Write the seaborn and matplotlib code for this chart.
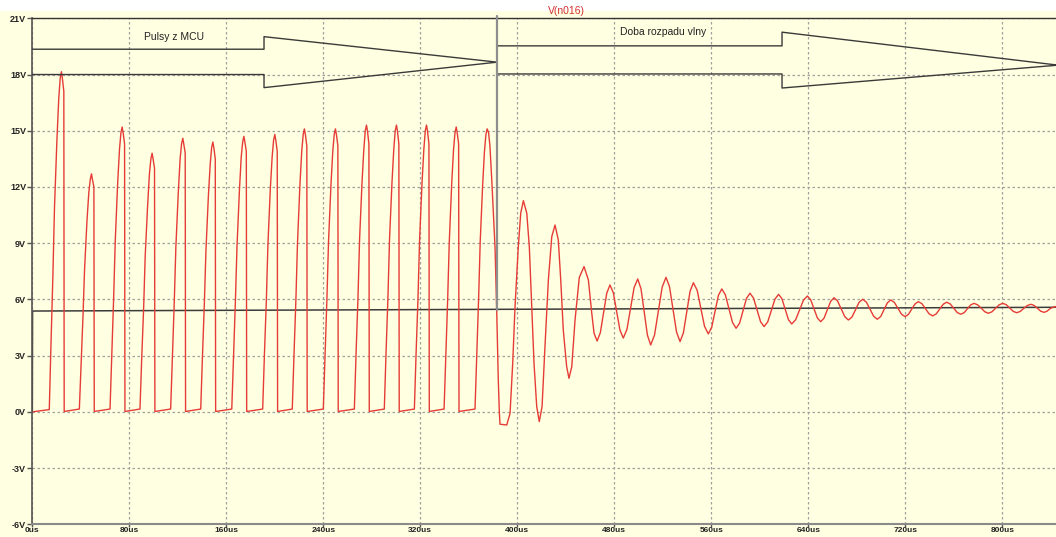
import matplotlib
matplotlib.use("Agg")
import matplotlib.pyplot as plt
from matplotlib.patches import Rectangle
import seaborn as sns

# V(n016): 15 pulses from the MCU, then the ringing decay (time in us, voltage in V)
t_us = [0.0,
        14.0, 15.4, 17.0, 18.3, 20.3, 21.8, 23.0, 24.0, 24.8, 26.0, 26.3,
        38.8, 40.2, 41.8, 43.1, 45.1, 46.6, 47.8, 48.8, 49.6, 50.8, 51.1,
        64.1, 65.5, 67.1, 68.4, 70.4, 71.9, 73.1, 74.1, 74.9, 76.1, 76.4,
        88.8, 90.2, 91.8, 93.1, 95.1, 96.6, 97.8, 98.8, 99.6, 100.8, 101.1,
        114.1, 115.5, 117.1, 118.4, 120.4, 121.9, 123.1, 124.1, 124.9, 126.1, 126.4,
        138.9, 140.3, 141.9, 143.2, 145.2, 146.7, 147.9, 148.9, 149.7, 150.9, 151.2,
        164.5, 165.9, 167.5, 168.8, 170.8, 172.3, 173.5, 174.5, 175.3, 176.5, 176.8,
        190.0, 191.4, 193.0, 194.3, 196.3, 197.8, 199.0, 200.0, 200.8, 202.0, 202.3,
        214.4, 215.8, 217.4, 218.7, 220.7, 222.2, 223.4, 224.4, 225.2, 226.4, 226.7,
        240.0, 241.4, 243.0, 244.3, 246.3, 247.8, 249.0, 250.0, 250.8, 252.0, 252.3,
        265.6, 267.0, 268.6, 269.9, 271.9, 273.4, 274.6, 275.6, 276.4, 277.6, 277.9,
        290.3, 291.7, 293.3, 294.6, 296.6, 298.1, 299.3, 300.3, 301.1, 302.3, 302.6,
        315.1, 316.5, 318.1, 319.4, 321.4, 322.9, 324.1, 325.1, 325.9, 327.1, 327.4,
        339.6, 341.0, 342.6, 343.9, 345.9, 347.4, 348.6, 349.6, 350.4, 351.6, 351.9,
        365.1, 366.5, 368.1, 369.4, 371.4, 372.9, 374.1, 375.1, 376.3, 377.4, 378.9,
        381.6, 383.0, 384.3, 385.2, 385.7, 391.3,
        394.0, 396.2, 398.1, 400.8, 402.8, 405.0, 407.8, 409.9, 411.9, 413.8, 416.0,
        418.1, 420.4, 422.8, 425.6, 428.4, 431.1, 433.8, 435.8, 437.9, 440.7,
        442.6, 444.9, 447.6, 451.1, 455.0, 458.6, 461.4, 463.3, 465.8,
        468.45, 471.1, 473.75, 476.4, 479.15, 481.9, 484.65, 487.4,
        490.4, 493.35, 496.3, 499.3, 502.0, 504.65, 507.3, 510.0,
        513.15, 516.3, 519.45, 522.6, 525.5, 528.4, 531.3, 534.2,
        536.95, 539.7, 542.45, 545.2, 548.3, 551.35, 554.4, 557.5,
        560.3, 563.05, 565.8, 568.6, 571.55, 574.5, 577.45, 580.4,
        583.3, 586.15, 589.0, 591.9, 594.8, 597.7, 600.6, 603.5,
        606.5, 609.5, 612.5, 615.5, 618.2, 620.9, 623.6, 626.3,
        629.5, 632.75, 636.0, 639.2, 641.95, 644.7, 647.45, 650.2,
        652.95, 655.7, 658.45, 661.2, 664.15, 667.1, 670.05, 673.0,
        676.0, 678.95, 681.9, 684.9, 687.9, 690.9, 693.9, 696.9,
        699.7, 702.45, 705.2, 708.0, 710.95, 713.9, 716.85, 719.8,
        722.5, 725.25, 728.0, 730.7, 733.7, 736.65, 739.6, 742.6,
        745.5, 748.35, 751.2, 754.1, 757.0, 759.9, 762.8, 765.7,
        768.45, 771.2, 773.95, 776.7, 779.65, 782.6, 785.55, 788.5,
        791.45, 794.4, 797.35, 800.3, 803.2, 806.1, 809.0, 811.9,
        814.8, 817.65, 820.5, 823.4, 826.15, 828.9, 831.65, 834.4,
        836.8, 839.2, 841.6, 844.0, 846.0]

v_n016 = [0.0,
          0.12, 3.6, 7.3, 10.9, 14.5, 16.7, 17.8, 18.15, 17.8, 17.1, 0.02,
          0.15, 2.5, 5.1, 7.6, 10.2, 11.7, 12.4, 12.7, 12.4, 12.0, 0.02,
          0.15, 3.0, 6.1, 9.1, 12.2, 14.0, 14.9, 15.2, 14.9, 14.3, 0.02,
          0.15, 2.8, 5.5, 8.3, 11.0, 12.7, 13.5, 13.8, 13.5, 13.0, 0.02,
          0.15, 2.9, 5.9, 8.8, 11.7, 13.5, 14.3, 14.6, 14.3, 13.8, 0.02,
          0.15, 2.9, 5.8, 8.6, 11.5, 13.2, 14.1, 14.4, 14.1, 13.5, 0.02,
          0.15, 2.9, 5.9, 8.8, 11.8, 13.6, 14.4, 14.7, 14.4, 13.9, 0.02,
          0.15, 3.0, 5.9, 8.9, 11.9, 13.6, 14.5, 14.8, 14.5, 13.9, 0.02,
          0.15, 3.0, 6.0, 9.0, 12.1, 13.9, 14.8, 15.1, 14.8, 14.2, 0.02,
          0.15, 3.0, 6.1, 9.1, 12.1, 13.9, 14.8, 15.1, 14.8, 14.2, 0.02,
          0.15, 3.1, 6.1, 9.2, 12.2, 14.0, 15.0, 15.3, 15.0, 14.3, 0.02,
          0.15, 3.1, 6.1, 9.2, 12.2, 14.0, 15.0, 15.3, 15.0, 14.3, 0.02,
          0.15, 3.1, 6.1, 9.2, 12.2, 14.0, 15.0, 15.3, 15.0, 14.3, 0.02,
          0.15, 3.0, 6.1, 9.1, 12.2, 14.0, 14.9, 15.2, 14.9, 14.3, 0.02,
          0.15, 3.0, 6.1, 9.1, 12.1, 13.9, 14.8, 15.1, 14.9, 14.2, 12.4,
          8.8, 5.4, 1.7, -0.07, -0.66, -0.70,
          -0.08, 2.6, 5.6, 8.8, 10.6, 11.27, 10.6, 8.8, 5.6, 2.55, 0.28,
          -0.52, 0.28, 3.48, 7.04, 9.35, 9.97, 9.17, 7.04, 4.37, 2.41,
          1.79, 2.41, 4.90, 7.17, 7.75, 7.04, 5.26, 4.19, 3.78,
          4.22, 5.28, 6.33, 6.77, 6.36, 5.36, 4.36, 3.94,
          4.40, 5.52, 6.63, 7.09, 6.57, 5.33, 4.09, 3.57,
          4.10, 5.38, 6.65, 7.18, 6.68, 5.47, 4.26, 3.75,
          4.21, 5.32, 6.43, 6.89, 6.49, 5.53, 4.56, 4.16,
          4.51, 5.36, 6.21, 6.56, 6.25, 5.51, 4.77, 4.46,
          4.73, 5.40, 6.06, 6.33, 6.07, 5.44, 4.81, 4.55,
          4.80, 5.41, 6.02, 6.27, 6.04, 5.48, 4.92, 4.69,
          4.91, 5.44, 5.96, 6.18, 5.98, 5.50, 5.01, 4.81,
          5.00, 5.45, 5.90, 6.09, 5.91, 5.50, 5.08, 4.90,
          5.06, 5.46, 5.85, 6.01, 5.85, 5.48, 5.10, 4.94,
          5.09, 5.46, 5.82, 5.97, 5.84, 5.53, 5.21, 5.08,
          5.20, 5.48, 5.76, 5.88, 5.77, 5.50, 5.23, 5.12,
          5.23, 5.49, 5.74, 5.85, 5.76, 5.53, 5.30, 5.21,
          5.29, 5.50, 5.71, 5.79, 5.71, 5.53, 5.34, 5.26,
          5.34, 5.53, 5.71, 5.79, 5.72, 5.54, 5.36, 5.29,
          5.36, 5.52, 5.67, 5.74, 5.68, 5.53, 5.37, 5.31,
          5.37, 5.50, 5.58, 5.61, 5.66]

# second (black) trace, slowly rising DC level
dc_t = [0.0, 0.2, 846.0]
dc_v = [0.0, 5.38, 5.58]

# drawn annotations: two arrows, a divider and their labels
arrow1_t = [0.0, 191.1, 191.1, 383.3, 191.1, 191.1, 0.0]
arrow1_v = [19.35, 19.35, 20.02, 18.66, 17.30, 18.0, 18.0]
arrow2_t = [383.3, 618.3, 618.3, 846.0, 618.3, 618.3, 383.3]
arrow2_v = [19.53, 19.53, 20.26, 18.5, 17.28, 18.03, 18.03]
divider_t = [383.3, 383.3]
divider_v = [21.12, 5.46]
labels = ["Pulsy z MCU", "Doba rozpadu vlny"]
label_t = [116.8, 520.0]
label_v = [19.98, 20.27]

x_ticks = [0, 80, 160, 240, 320, 400, 480, 560, 640, 720, 800]
y_ticks = [-6, -3, 0, 3, 6, 9, 12, 15, 18, 21]

bg = "#ffffe1"
sns.set_theme(style="ticks")
plt.rcParams["font.family"] = ["Liberation Sans", "DejaVu Sans"]

fig = plt.figure(figsize=(10.56, 5.37), dpi=100, facecolor=bg)
fig.patches.append(Rectangle((0, 1 - 11 / 537), 1, 11 / 537, transform=fig.transFigure,
                             facecolor="white", edgecolor="none", zorder=0))
ax = fig.add_axes([32.3 / 1056, 12.7 / 537, 1023.4 / 1056, 506.0 / 537])
ax.set_facecolor(bg)

sns.lineplot(x=dc_t, y=dc_v, sort=False, estimator=None, color="#3c3c3c", lw=1.1, ax=ax)
sns.lineplot(x=t_us, y=v_n016, sort=False, estimator=None, color="#e63c37", lw=1.0, ax=ax)

for xs, ys in [(arrow1_t, arrow1_v), (arrow2_t, arrow2_v)]:
    ax.plot(xs, ys, color="#3a3a3a", lw=1.0, zorder=3)
ax.plot(divider_t, divider_v, color="#8e8e8e", lw=1.6, zorder=3, clip_on=False)
for txt, tx, vy in zip(labels, label_t, label_v):
    ax.text(tx, vy, txt, ha="center", va="center", fontsize=7.5, color="#222222")

fig.text(566 / 1056, 1 - 11 / 537, "V(n016)", ha="center", va="center",
         fontsize=7.5, color="#d43030", zorder=5)

ax.set_xlim(0, 844)
ax.set_ylim(-6, 21)
ax.set_xticks(x_ticks)
ax.set_xticklabels([f"{t}us" for t in x_ticks])
ax.set_yticks(y_ticks)
ax.set_yticklabels([f"{v}V" for v in y_ticks])
ax.set_xlabel("")
ax.set_ylabel("")
ax.grid(True, color="#a0a0a0", linestyle=(0, (2, 2)), linewidth=0.9)
ax.set_axisbelow(True)

for lab in ax.get_xticklabels() + ax.get_yticklabels():
    lab.set_fontweight("bold")
    lab.set_color("#222222")
for lab in ax.get_yticklabels():
    lab.set_fontsize(6.5)
for lab in ax.get_xticklabels():
    lab.set_fontsize(6)
ax.tick_params(axis="y", length=3.5, width=1.0, color="#555555", pad=1.0)
ax.tick_params(axis="x", length=2.0, width=1.0, color="#555555", pad=0.3)

ax.spines["right"].set_visible(False)
ax.spines["top"].set_color("#333333")
ax.spines["top"].set_linewidth(1.0)
ax.spines["left"].set_color("#555555")
ax.spines["left"].set_linewidth(1.2)
ax.spines["bottom"].set_color("#8a8a8a")
ax.spines["bottom"].set_linewidth(1.5)

fig.savefig("out.png", dpi=100, facecolor=bg)
